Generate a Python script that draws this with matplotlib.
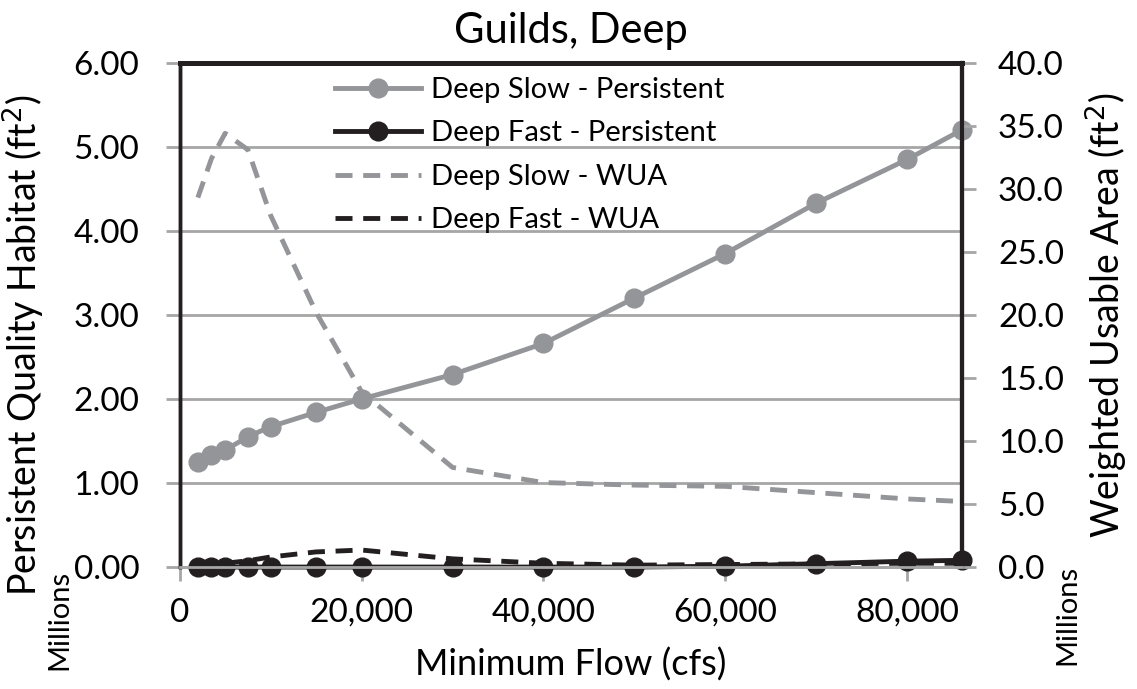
import numpy as np
import matplotlib.pyplot as plt
from matplotlib.ticker import FuncFormatter, FormatStrFormatter

plt.rcParams['font.family'] = ['Lato', 'DejaVu Sans']

# Minimum flow steps (cfs)
flow = [2000, 3500, 5000, 7500, 10000, 15000, 20000, 30000,
        40000, 50000, 60000, 70000, 80000, 86000]

# Persistent quality habitat, millions of ft2
slow_persistent = [1.25, 1.33, 1.39, 1.55, 1.67, 1.84, 2.00, 2.29,
                   2.66, 3.20, 3.73, 4.33, 4.85, 5.20]
fast_persistent = [0.00, 0.00, 0.00, 0.00, 0.00, 0.00, 0.00, 0.00,
                   0.00, 0.00, 0.01, 0.04, 0.07, 0.08]

# Weighted usable area, millions of ft2
slow_wua = [29.3, 32.4, 34.4, 33.1, 27.9, 20.2, 13.9, 7.9,
            6.7, 6.5, 6.4, 5.9, 5.4, 5.2]
fast_wua = [0.2, 0.2, 0.3, 0.5, 0.8, 1.2, 1.35, 0.65,
            0.3, 0.15, 0.2, 0.25, 0.3, 0.3]

GRAY = '#949599'
BLACK = '#231f20'
AXGRAY = '#a6a6a6'

fig = plt.figure(figsize=(11.37, 6.89), dpi=100)
ax = fig.add_axes([0.158, 0.177, 0.688, 0.732])
ax2 = ax.twinx()

l1, = ax.plot(flow, slow_persistent, '-o', color=GRAY, lw=3.5, ms=13.5,
              label='Deep Slow - Persistent', clip_on=False, zorder=3)
l2, = ax.plot(flow, fast_persistent, '-o', color=BLACK, lw=3.5, ms=13.5,
              label='Deep Fast - Persistent', clip_on=False, zorder=4)
l3, = ax2.plot(flow, slow_wua, '--', color=GRAY, lw=3.5, dashes=(3.5, 2.2),
               label='Deep Slow - WUA')
l4, = ax2.plot(flow, fast_wua, '--', color=BLACK, lw=3.5, dashes=(3.5, 2.2),
               label='Deep Fast - WUA')

ax.set_xlim(0, 86000)
ax.set_ylim(0, 6)
ax2.set_ylim(0, 40)
ax.set_xticks(np.arange(0, 80001, 20000))
ax.set_yticks(np.arange(0, 6.01, 1))
ax2.set_yticks(np.arange(0, 40.01, 5))
ax.xaxis.set_major_formatter(FuncFormatter(lambda v, p: f'{v:,.0f}'))
ax.yaxis.set_major_formatter(FormatStrFormatter('%.2f'))
ax2.yaxis.set_major_formatter(FormatStrFormatter('%.1f'))

ax.grid(axis='y', color=AXGRAY, lw=2)
ax.set_axisbelow(True)

for a in (ax, ax2):
    a.tick_params(labelsize=24, length=10, width=2, color=AXGRAY, pad=16)
    a.spines['top'].set_linewidth(3.5)
    a.spines['top'].set_color(BLACK)
    a.spines['left'].set_linewidth(2.5)
    a.spines['left'].set_color(BLACK)
    a.spines['right'].set_linewidth(3)
    a.spines['right'].set_color(BLACK)
    a.spines['bottom'].set_linewidth(2)
    a.spines['bottom'].set_color(AXGRAY)
ax.tick_params(axis='y', pad=19)
ax.tick_params(axis='x', pad=12)

ax.set_xlabel('Minimum Flow (cfs)', fontsize=26, labelpad=14)
ax.set_ylabel('Persistent Quality Habitat (ft$^2$)', fontsize=27)
ax.yaxis.set_label_coords(-0.169, 0.44)
ax2.set_ylabel('Weighted Usable Area (ft$^2$)', fontsize=27, labelpad=14,
               rotation=90)
ax.set_title('Guilds, Deep', fontsize=30, pad=14)

fig.text(0.052, 0.10, 'Millions', rotation=90, fontsize=21, va='center', ha='center')
fig.text(0.939, 0.108, 'Millions', rotation=90, fontsize=21, va='center', ha='center')

ax2.legend(handles=[l1, l2, l3, l4], loc='upper left',
           bbox_to_anchor=(0.198, 0.972), frameon=False, fontsize=21,
           handlelength=2.95, handletextpad=0.36, labelspacing=0.6,
           borderaxespad=0, borderpad=0)

fig.savefig('out.png', dpi=100)
